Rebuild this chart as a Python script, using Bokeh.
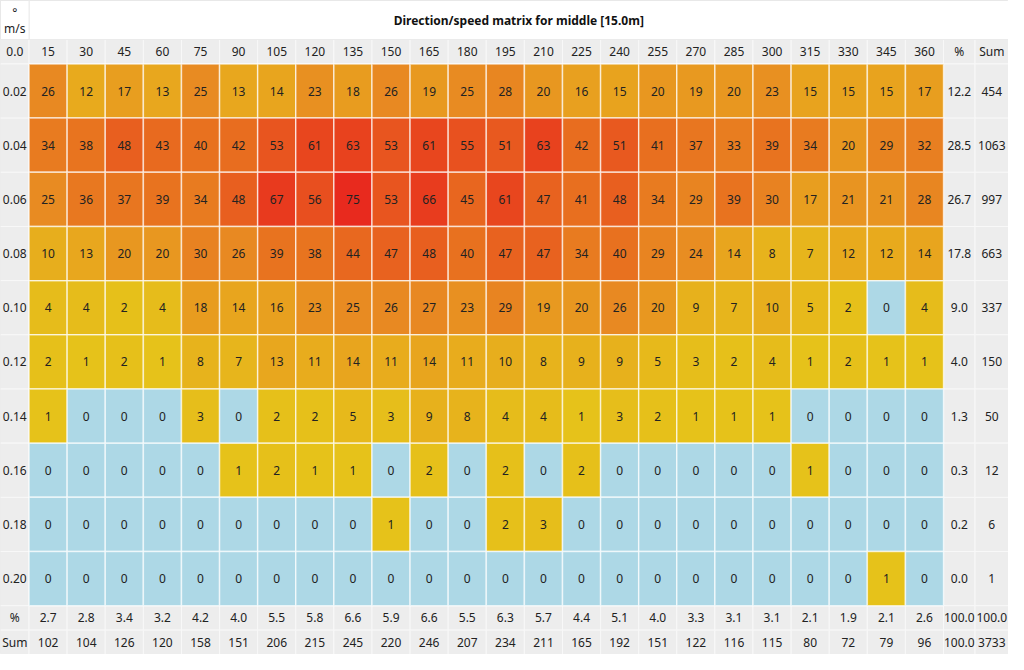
from bokeh.plotting import figure
from bokeh.models import Range1d, ColumnDataSource, LinearColorMapper
from bokeh.transform import transform
from bokeh.core.properties import value
from bokeh.embed import file_html
from bokeh.resources import INLINE

# ---------------- data ----------------
title = "Direction/speed matrix for middle [15.0m]"
directions = [15, 30, 45, 60, 75, 90, 105, 120, 135, 150, 165, 180,
              195, 210, 225, 240, 255, 270, 285, 300, 315, 330, 345, 360]
speeds = ["0.02", "0.04", "0.06", "0.08", "0.10", "0.12", "0.14", "0.16", "0.18", "0.20"]
counts = [
    [26, 12, 17, 13, 25, 13, 14, 23, 18, 26, 19, 25, 28, 20, 16, 15, 20, 19, 20, 23, 15, 15, 15, 17],
    [34, 38, 48, 43, 40, 42, 53, 61, 63, 53, 61, 55, 51, 63, 42, 51, 41, 37, 33, 39, 34, 20, 29, 32],
    [25, 36, 37, 39, 34, 48, 67, 56, 75, 53, 66, 45, 61, 47, 41, 48, 34, 29, 39, 30, 17, 21, 21, 28],
    [10, 13, 20, 20, 30, 26, 39, 38, 44, 47, 48, 40, 47, 47, 34, 40, 29, 24, 14, 8, 7, 12, 12, 14],
    [4, 4, 2, 4, 18, 14, 16, 23, 25, 26, 27, 23, 29, 19, 20, 26, 20, 9, 7, 10, 5, 2, 0, 4],
    [2, 1, 2, 1, 8, 7, 13, 11, 14, 11, 14, 11, 10, 8, 9, 9, 5, 3, 2, 4, 1, 2, 1, 1],
    [1, 0, 0, 0, 3, 0, 2, 2, 5, 3, 9, 8, 4, 4, 1, 3, 2, 1, 1, 1, 0, 0, 0, 0],
    [0, 0, 0, 0, 0, 1, 2, 1, 1, 0, 2, 0, 2, 0, 2, 0, 0, 0, 0, 0, 1, 0, 0, 0],
    [0, 0, 0, 0, 0, 0, 0, 0, 0, 1, 0, 0, 2, 3, 0, 0, 0, 0, 0, 0, 0, 0, 0, 0],
    [0, 0, 0, 0, 0, 0, 0, 0, 0, 0, 0, 0, 0, 0, 0, 0, 0, 0, 0, 0, 0, 0, 1, 0],
]
row_pct = ["12.2", "28.5", "26.7", "17.8", "9.0", "4.0", "1.3", "0.3", "0.2", "0.0"]
row_sum = [454, 1063, 997, 663, 337, 150, 50, 12, 6, 1]
col_pct = ["2.7", "2.8", "3.4", "3.2", "4.2", "4.0", "5.5", "5.8", "6.6", "5.9", "6.6", "5.5",
           "6.3", "5.7", "4.4", "5.1", "4.0", "3.3", "3.1", "3.1", "2.1", "1.9", "2.1", "2.6"]
col_sum = [102, 104, 126, 120, 158, 151, 206, 215, 245, 220, 246, 207,
           234, 211, 165, 192, 151, 122, 116, 115, 80, 72, 79, 96]
pct_footer = ["100.0", "100.0"]
sum_footer = ["100.0", "3733"]
corner_labels = ["°", "m/s"]
header_first = "0.0"

# ---------------- layout (reference pixel units) ----------------
W, H = 1024, 670
X_LAB1 = 29
X_DATA1 = 958
X_PCT1 = 990
X_SUM1 = 1024
Y_TITLE1 = 40
Y_HEAD1 = 65
Y_DATA1 = 620
Y_PCT1 = 645
Y_SUM1 = 670

ncol = len(directions)
nrow = len(speeds)
cw = (X_DATA1 - X_LAB1) / ncol
rh = (Y_DATA1 - Y_HEAD1) / nrow

FONT = value("Noto Sans")
FS = "12px"
TXT = "#222222"
GREY = "#EDEDED"

# colour palette: yellow -> orange -> red
anchors = [(1, (0xE6, 0xC2, 0x1A)), (8, (0xE7, 0xB3, 0x1C)), (14, (0xE8, 0xA5, 0x1E)),
           (25, (0xE8, 0x8B, 0x22)), (40, (0xE8, 0x71, 0x1F)), (50, (0xE8, 0x5B, 0x1F)),
           (63, (0xE8, 0x42, 0x1E)), (75, (0xE8, 0x2A, 0x1E))]


def interp(v):
    for (v0, c0), (v1, c1) in zip(anchors[:-1], anchors[1:]):
        if v0 <= v <= v1:
            t = (v - v0) / (v1 - v0)
            return "#%02X%02X%02X" % tuple(int(round(a + (b - a) * t)) for a, b in zip(c0, c1))
    return "#%02X%02X%02X" % anchors[-1][1]


palette = [interp(v) for v in range(1, 76)]
mapper = LinearColorMapper(palette=palette, low=0.5, high=75.5,
                           low_color="#ADD8E6", high_color=palette[-1])

p = figure(width=1008, height=654, x_range=Range1d(0, W), y_range=Range1d(H, 0),
           output_backend="svg", toolbar_location=None, min_border=0,
           background_fill_color="white", border_fill_color="white")
p.axis.visible = False
p.grid.visible = False
p.outline_line_color = "#DDDDDD"

# ---- grey cells (labels, header, footer, totals) ----
gx, gy, gw, gh = [], [], [], []


def add_grey(x0, x1, y0, y1):
    gx.append((x0 + x1) / 2); gy.append((y0 + y1) / 2)
    gw.append(x1 - x0); gh.append(y1 - y0)


# header row
add_grey(0, X_LAB1, Y_TITLE1, Y_HEAD1)
for i in range(ncol):
    add_grey(X_LAB1 + i * cw, X_LAB1 + (i + 1) * cw, Y_TITLE1, Y_HEAD1)
add_grey(X_DATA1, X_PCT1, Y_TITLE1, Y_HEAD1)
add_grey(X_PCT1, X_SUM1, Y_TITLE1, Y_HEAD1)
# label column + totals columns for data rows
for j in range(nrow):
    y0, y1 = Y_HEAD1 + j * rh, Y_HEAD1 + (j + 1) * rh
    add_grey(0, X_LAB1, y0, y1)
    add_grey(X_DATA1, X_PCT1, y0, y1)
    add_grey(X_PCT1, X_SUM1, y0, y1)
# footer rows
for (y0, y1) in [(Y_DATA1, Y_PCT1), (Y_PCT1, Y_SUM1)]:
    add_grey(0, X_LAB1, y0, y1)
    for i in range(ncol):
        add_grey(X_LAB1 + i * cw, X_LAB1 + (i + 1) * cw, y0, y1)
    add_grey(X_DATA1, X_PCT1, y0, y1)
    add_grey(X_PCT1, X_SUM1, y0, y1)

p.rect(x=gx, y=gy, width=gw, height=gh, fill_color=GREY,
       line_color="#F8F8F8", line_width=1)

# title area border
p.rect(x=[(X_LAB1 + X_SUM1) / 2, X_LAB1 / 2], y=[Y_TITLE1 / 2] * 2,
       width=[X_SUM1 - X_LAB1, X_LAB1], height=[Y_TITLE1] * 2,
       fill_color="white", line_color="#EBEBEB", line_width=1)

# ---- data cells ----
cx, cy, cv, ct = [], [], [], []
for j, row in enumerate(counts):
    for i, v in enumerate(row):
        cx.append(X_LAB1 + (i + 0.5) * cw)
        cy.append(Y_HEAD1 + (j + 0.5) * rh)
        cv.append(v)
        ct.append(str(v))
src = ColumnDataSource(dict(x=cx, y=cy, v=cv, t=ct))
p.rect(x="x", y="y", width=cw, height=rh, source=src,
       fill_color=transform("v", mapper), line_color="white", line_alpha=0.65, line_width=1.5)
p.text(x="x", y="y", text="t", source=src, text_font=FONT, text_font_size=FS,
       text_color=TXT, text_align="center", text_baseline="middle")

# ---- labels ----
tx, ty, tt = [], [], []


def add_text(x, y, s):
    tx.append(x); ty.append(y); tt.append(str(s))


yh = (Y_TITLE1 + Y_HEAD1) / 2
add_text(X_LAB1 / 2, yh, header_first)
for i, d in enumerate(directions):
    add_text(X_LAB1 + (i + 0.5) * cw, yh, d)
add_text((X_DATA1 + X_PCT1) / 2, yh, "%")
add_text((X_PCT1 + X_SUM1) / 2, yh, "Sum")
for j, s in enumerate(speeds):
    yc = Y_HEAD1 + (j + 0.5) * rh
    add_text(X_LAB1 / 2, yc, s)
    add_text((X_DATA1 + X_PCT1) / 2, yc, row_pct[j])
    add_text((X_PCT1 + X_SUM1) / 2, yc, row_sum[j])
yp = (Y_DATA1 + Y_PCT1) / 2
ys = (Y_PCT1 + Y_SUM1) / 2
add_text(X_LAB1 / 2, yp, "%")
add_text(X_LAB1 / 2, ys, "Sum")
for i in range(ncol):
    add_text(X_LAB1 + (i + 0.5) * cw, yp, col_pct[i])
    add_text(X_LAB1 + (i + 0.5) * cw, ys, col_sum[i])
add_text((X_DATA1 + X_PCT1) / 2, yp, pct_footer[0])
add_text((X_PCT1 + X_SUM1) / 2, yp, pct_footer[1])
add_text((X_DATA1 + X_PCT1) / 2, ys, sum_footer[0])
add_text((X_PCT1 + X_SUM1) / 2, ys, sum_footer[1])
add_text(X_LAB1 / 2, 12, corner_labels[0])
add_text(X_LAB1 / 2, 29, corner_labels[1])

p.text(x=tx, y=ty, text=tt, text_font=FONT, text_font_size=FS, text_color=TXT,
       text_align="center", text_baseline="middle")

# title
p.text(x=[(X_LAB1 + X_SUM1) / 2], y=[Y_TITLE1 / 2], text=[title], text_font=FONT,
       text_font_size="12px", text_font_style="bold", text_color="#111111",
       text_align="center", text_baseline="middle")

open("out.html", "w").write(file_html(p, INLINE))
